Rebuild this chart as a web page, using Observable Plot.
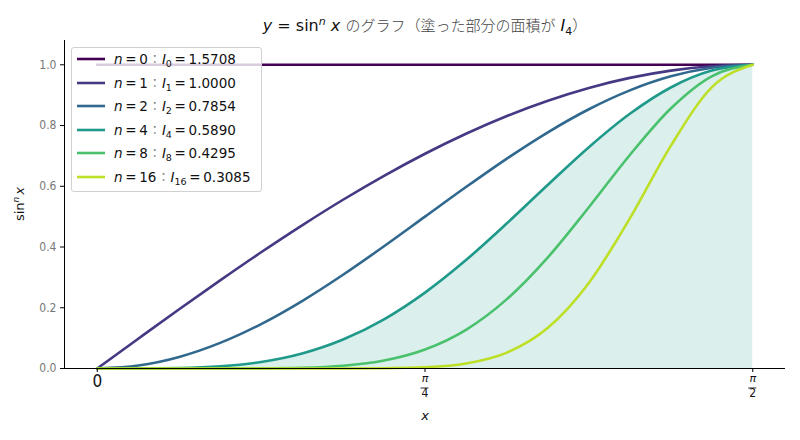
<!DOCTYPE html>
<html><head><meta charset="utf-8">
<script src="https://cdn.jsdelivr.net/npm/d3@7"></script>
<script src="https://cdn.jsdelivr.net/npm/@observablehq/plot@0.6"></script>
<style>
body{margin:0;background:#fff;}
#wrap{position:relative;width:800px;height:440px;overflow:hidden;font-family:"DejaVu Sans",sans-serif;}
#title{position:absolute;top:0;left:0;width:800px;height:40px;}
#title .t{position:absolute;left:425px;top:14px;transform:translateX(-50%);white-space:nowrap;font-size:16px;color:#111;}
.jp{font-family:"Noto Sans CJK JP",sans-serif;font-weight:300;color:#444;font-size:15px;}
#chart{position:absolute;top:40px;left:0;}
#legend{position:absolute;left:71px;top:47px;width:191px;height:145px;background:rgba(255,255,255,0.8);border:1px solid #d0d0d0;border-radius:3px;box-sizing:border-box;}
.row{position:absolute;left:5px;height:20px;font-size:13.5px;color:#111;white-space:nowrap;line-height:20px;}
.row svg{vertical-align:middle;margin-right:9px;position:relative;top:-1px;}
.row sub{font-size:9.5px;vertical-align:-3px;line-height:0;}
.colon{font-family:"Noto Sans CJK JP",sans-serif;color:#777;font-size:12px;margin:0 1px;}
</style></head>
<body><div id="wrap">
<div id="title"><span class="t"><i>y</i> = sin<sup style="font-size:11px"><i>n</i></sup> <i>x</i> <span class="jp">のグラフ（塗った部分の面積が</span> <i>I</i><sub style="font-size:11px">4</sub><span class="jp">）</span></span></div>
<div id="chart"></div>
<div id="legend"></div>
</div>
<script>
// sample positions (radians) and curve values
const xs = [0, 0.0982, 0.1963, 0.2945, 0.3927, 0.4909, 0.5890, 0.6872, 0.7854, 0.8836, 0.9817, 1.0799, 1.1781, 1.2763, 1.3744, 1.4726, 1.5708];
const y_n0  = [1,1,1,1,1,1,1,1,1,1,1,1,1,1,1,1,1];
const y_n1  = [0, 0.0980, 0.1951, 0.2903, 0.3827, 0.4714, 0.5556, 0.6344, 0.7071, 0.7730, 0.8315, 0.8819, 0.9239, 0.9569, 0.9808, 0.9952, 1];
const y_n2  = [0, 0.0096, 0.0381, 0.0843, 0.1464, 0.2222, 0.3087, 0.4025, 0.5000, 0.5975, 0.6913, 0.7778, 0.8536, 0.9157, 0.9619, 0.9904, 1];
const y_n4  = [0, 0.0001, 0.0014, 0.0071, 0.0214, 0.0494, 0.0953, 0.1620, 0.2500, 0.3571, 0.4780, 0.6050, 0.7286, 0.8386, 0.9253, 0.9809, 1];
const y_n8  = [0, 0, 0, 0.0001, 0.0005, 0.0024, 0.0091, 0.0262, 0.0625, 0.1274, 0.2284, 0.3660, 0.5309, 0.7031, 0.8562, 0.9622, 1];
const y_n16 = [0, 0, 0, 0, 0, 0, 0.0001, 0.0007, 0.0039, 0.0162, 0.0522, 0.1340, 0.2818, 0.4943, 0.7331, 0.9258, 1];
const ns = [0, 1, 2, 4, 8, 16];
const integrals = ["1.5708", "1.0000", "0.7854", "0.5890", "0.4295", "0.3085"];
const colors = ["#440154", "#443983", "#31688e", "#1f9a8a", "#4ac16d", "#bddf26"];
const xTickValues = [0, 0.7854, 1.5708];
const xTickNum = ["0", "π", "π"];
const xTickDen = ["", "4", "2"];
const yTickValues = [0, 0.2, 0.4, 0.6, 0.8, 1.0];

const seriesYs = [y_n0, y_n1, y_n2, y_n4, y_n8, y_n16];
const rows = ns.flatMap((n, si) => xs.map((x, i) => ({x, y: seriesYs[si][i], n})));
const fillRows = xs.map((x, i) => ({x, y: y_n4[i]}));
const ticks = xTickValues.map((v, i) => ({v, num: xTickNum[i], den: xTickDen[i]}));
const fracTicks = ticks.filter(d => d.den !== "");
const zeroTicks = ticks.filter(d => d.den === "");
const condensed = "DejaVu Sans Condensed, Liberation Sans Narrow, sans-serif";

const chart = Plot.plot({
  width: 800, height: 400,
  marginTop: 0, marginLeft: 64, marginRight: 15, marginBottom: 72,
  style: {fontFamily: "DejaVu Sans, sans-serif", background: "transparent"},
  x: {domain: [-0.0785, 1.6493]},
  y: {domain: [0, 1.08]},
  color: {type: "ordinal", domain: ns, range: colors},
  marks: [
    Plot.areaY(fillRows, {x: "x", y: "y", fill: colors[3], fillOpacity: 0.16, curve: "monotone-x"}),
    Plot.line(rows, {x: "x", y: "y", z: "n", stroke: "n", strokeWidth: 2.6, curve: "monotone-x"}),
    Plot.axisY({ticks: yTickValues, tickFormat: d3.format(".1f"), tickSize: 4, tickPadding: 4, label: null, fontSize: 12, color: "#777", stroke: "#000", fontFamily: condensed}),
    Plot.ruleX([-0.0785], {stroke: "#000", strokeWidth: 1}),
    Plot.ruleY([0], {stroke: "#000", strokeWidth: 1}),
    Plot.axisX({ticks: xTickValues, tickFormat: () => "", tickSize: 4, label: null, stroke: "#000"}),
    Plot.text(zeroTicks, {x: "v", text: "num", frameAnchor: "bottom", dy: 18, fontSize: 17, fill: "#111", fontFamily: condensed}),
    Plot.text(fracTicks, {x: "v", text: "num", frameAnchor: "bottom", dy: 13, fontSize: 11, fontStyle: "italic", fill: "#111"}),
    Plot.text(fracTicks, {x: "v", text: "den", frameAnchor: "bottom", dy: 28, fontSize: 12, fill: "#111", fontFamily: condensed}),
    Plot.text(["x"], {frameAnchor: "bottom", dy: 51, fontSize: 13, fontStyle: "italic", fill: "#111"})
  ]
});
document.getElementById("chart").appendChild(chart);

const svg = d3.select(chart);
// fraction bars of the π/4, π/2 tick labels, placed with the plot's x scale
const sx = chart.scale("x");
const y0px = chart.scale("y").apply(0);
fracTicks.forEach(d => {
  const px = sx.apply(d.v);
  svg.append("line").attr("x1", px - 4).attr("x2", px + 4)
    .attr("y1", y0px + 20).attr("y2", y0px + 20)
    .attr("stroke", "#111").attr("stroke-width", 0.9);
});

// y axis label sin^n x with mixed styles
const lab = svg.append("text")
  .attr("transform", "translate(24,164) rotate(-90)")
  .attr("text-anchor", "middle")
  .attr("font-size", 13)
  .attr("fill", "#111");
lab.append("tspan").text("sin");
lab.append("tspan").attr("font-size", 9).attr("font-style", "italic").attr("dy", -5).text("n");
lab.append("tspan").attr("font-style", "italic").attr("dy", 5).attr("dx", 2).text("x");

// legend
const leg = document.getElementById("legend");
ns.forEach((n, i) => {
  const r = document.createElement("div");
  r.className = "row";
  r.style.top = (1 + i * 23.6) + "px";
  r.innerHTML = `<svg width="28" height="6"><line x1="0" x2="28" y1="3" y2="3" stroke="${colors[i]}" stroke-width="2.6"/></svg><i>n</i>&thinsp;=&thinsp;${n}<span class="colon">：</span><i>I</i><sub>${n}</sub>&thinsp;=&thinsp;${integrals[i]}`;
  leg.appendChild(r);
});
</script>
</body></html>
